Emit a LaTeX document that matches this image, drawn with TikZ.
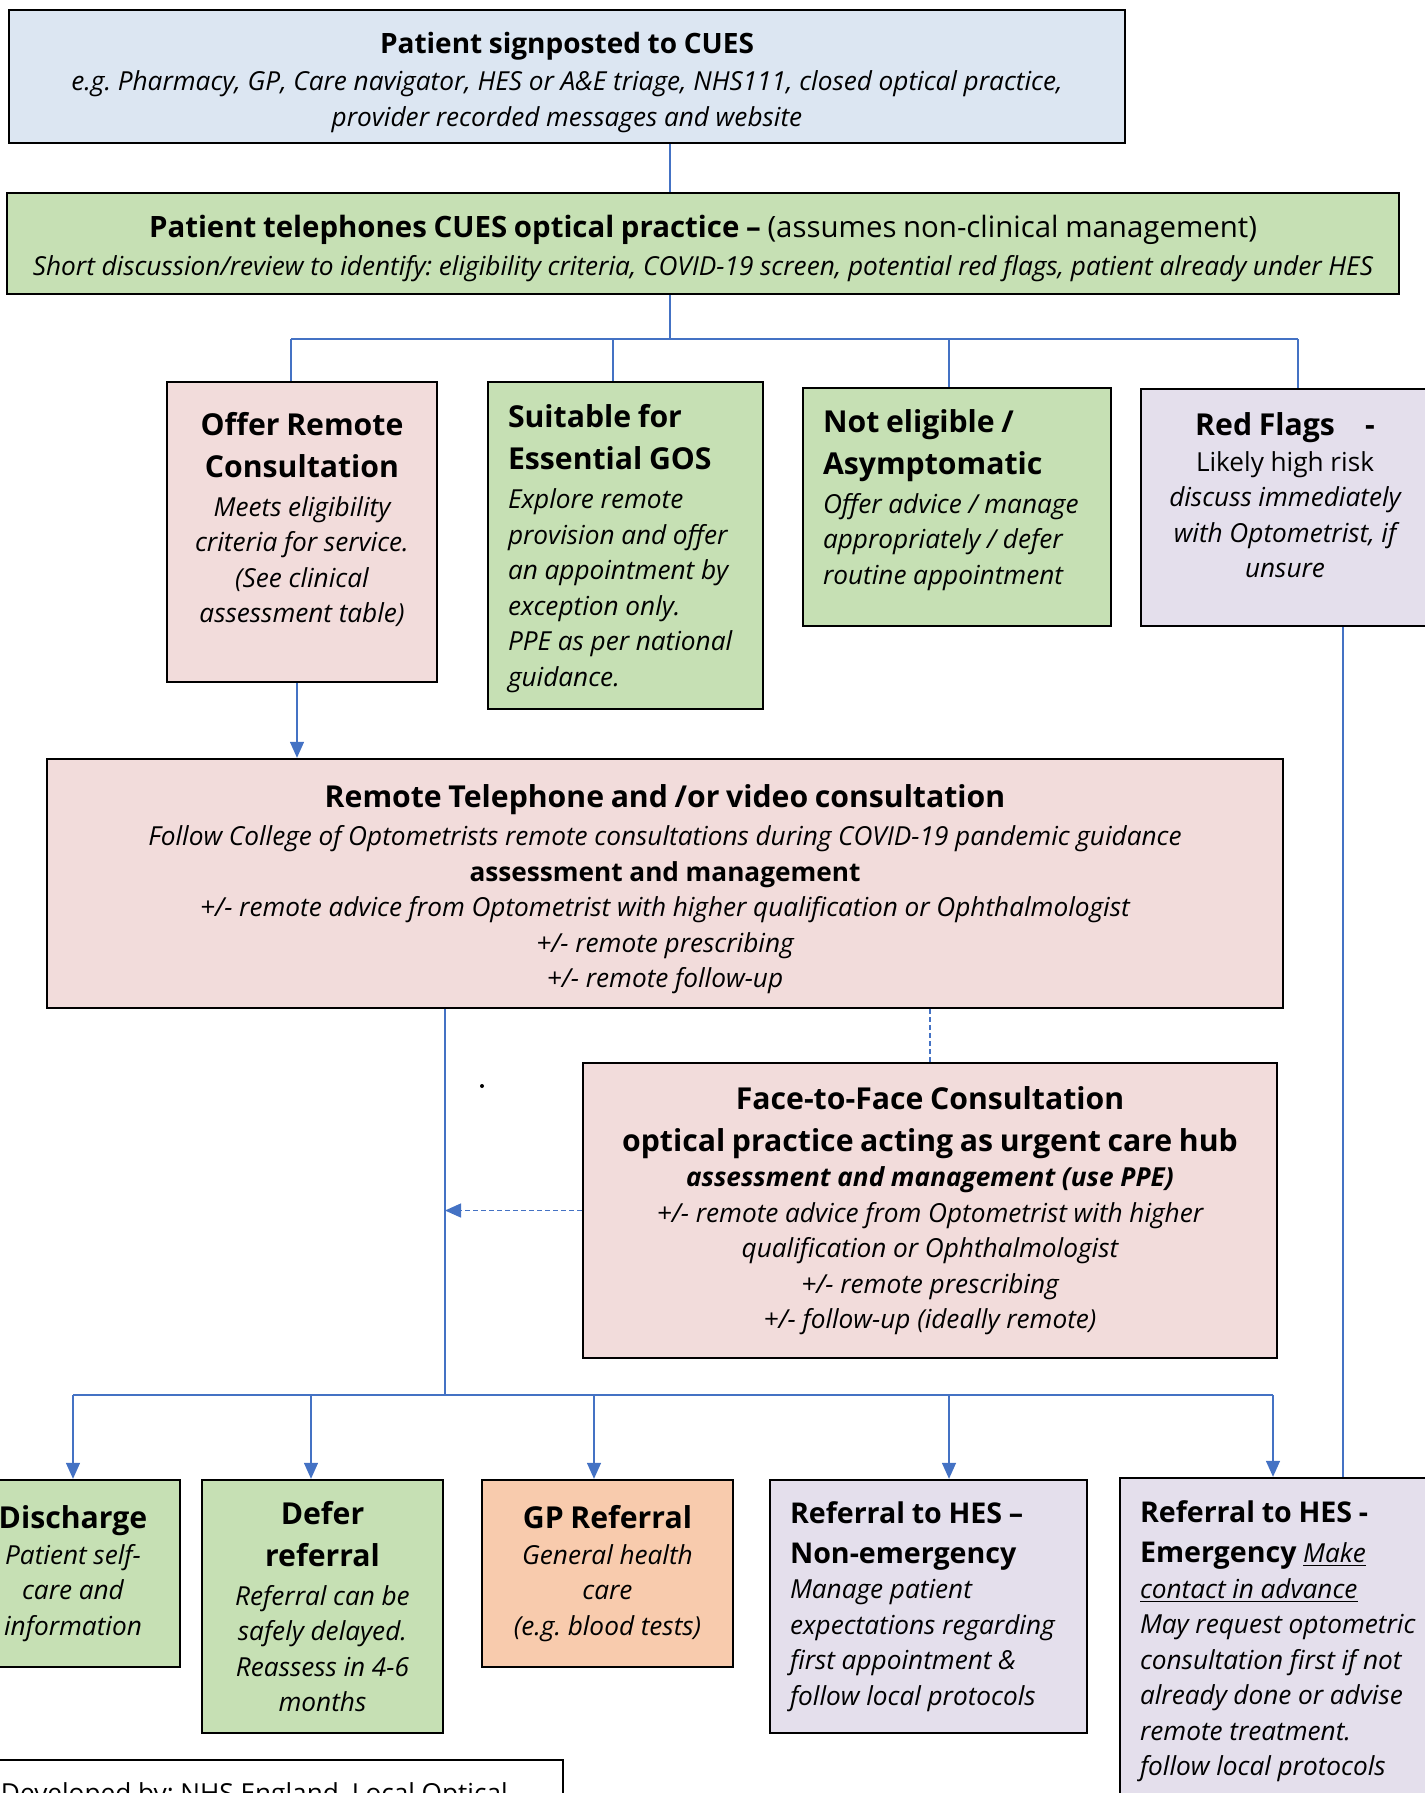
\documentclass[tikz,border=0pt]{standalone}
\usepackage{fontspec}
\setmainfont{Open Sans}
\frenchspacing
\usetikzlibrary{arrows.meta,positioning}
\definecolor{cuesBlue}{HTML}{DCE6F2}
\definecolor{cuesGreen}{HTML}{C6E0B4}
\definecolor{cuesPink}{HTML}{F2DCDB}
\definecolor{cuesLilac}{HTML}{E4DFEC}
\definecolor{cuesOrange}{HTML}{F8CBAD}
\definecolor{cuesLink}{HTML}{4472C4}
\newcommand{\cuesHead}{\fontsize{15.1}{21}\selectfont\bfseries}
\newcommand{\cuesSub}{\fontsize{14.3}{20}\selectfont\bfseries}
\newcommand{\cuesBody}{\fontsize{13.1}{17.75}\selectfont\mdseries\itshape}
\newcommand{\cuesText}{\fontsize{13.1}{17.75}\selectfont\mdseries\upshape}
\newcommand{\cuesGap}{\par\kern1.7pt}
\tikzset{
	cuesbox/.style={draw=black, line width=1.2pt, inner xsep=10pt, inner ysep=3pt, align=center},
	link/.style={draw=cuesLink, line width=0.7pt},
	linkarrow/.style={link, -{Triangle[width=7pt,length=8pt]}},
	linkdash/.style={link, dash pattern=on 2.5pt off 1.5pt}
}

\begin{document}
\begin{tikzpicture}[x=0.5pt, y=-0.5pt]
	\useasboundingbox (0,0) rectangle (1424,1793);
		% entry
		\node[cuesbox, fill=cuesBlue, minimum width=558pt, minimum height=66.5pt, text width=538pt] (signpost) at (567,76.5)
			{\fontsize{14}{18}\selectfont\bfseries Patient signposted to CUES\par\kern0.9pt
			\cuesBody e.g. Pharmacy, GP, Care navigator, HES or A\&E triage, NHS111, closed optical practice,\\ provider recorded messages and website\par\kern-5.7pt};
		\node[cuesbox, fill=cuesGreen, minimum width=696pt, minimum height=50.5pt, text width=676pt] (phone) at (703,243.5)
			{\fontsize{14.7}{19}\selectfont\bfseries Patient telephones CUES optical practice – \mdseries(assumes non-clinical management)\par
			\fontsize{13.1}{19}\selectfont\itshape Short discussion/review to identify: eligibility criteria, COVID-19 screen, potential red flags, patient already under HES\par\kern-5.2pt};
		% triage
		\node[cuesbox, fill=cuesPink, minimum width=135pt, minimum height=150pt, text width=115pt] (offer) at (302,532)
			{\cuesHead Offer Remote\\ Consultation\cuesGap
			\cuesBody Meets eligibility\\ criteria for service.\\ (See clinical\\ assessment table)\par\kern12.6pt};
		\node[cuesbox, fill=cuesGreen, align=left, minimum width=137.5pt, minimum height=163.5pt, text width=117.5pt] (essential) at (625.5,545.5)
			{\cuesHead Suitable for\\ Essential GOS\cuesGap
			\cuesBody Explore remote\\ provision and offer\\ an appointment by\\ exception only.\\ PPE as per national\\ guidance.\par\kern-3pt};
		\node[cuesbox, fill=cuesGreen, align=left, minimum width=154pt, minimum height=119pt, text width=134pt] (noteligible) at (957,507)
			{\cuesHead Not eligible /\\ Asymptomatic\cuesGap
			\cuesBody Offer advice / manage\\ appropriately / defer\\ routine appointment\par\kern6.9pt};
		\node[cuesbox, fill=cuesLilac, minimum width=144pt, minimum height=118.5pt, text width=124pt] (redflags) at (1285,507.5)
			{\cuesHead Red Flags\quad -\par
			\cuesText Likely high risk\\ \cuesBody discuss immediately\\ with Optometrist, if\\ unsure\par\kern12pt};
		% consultations
		\node[cuesbox, fill=cuesPink, minimum width=618pt, minimum height=124.5pt, text width=598pt] (remote) at (665,883.5)
			{\cuesHead Remote Telephone and /or video consultation\cuesGap
			\cuesBody Follow College of Optometrists remote consultations during COVID-19 pandemic guidance\\
			\upshape\bfseries assessment and management\\
			\mdseries\itshape +/- remote advice from Optometrist with higher qualification or Ophthalmologist\\
			+/- remote prescribing\\ +/- remote follow-up\par\kern-5.7pt};
		\node[cuesbox, fill=cuesPink, minimum width=347pt, minimum height=147.5pt, text width=327pt] (facetoface) at (930,1210.5)
			{\cuesHead Face-to-Face Consultation\\ optical practice acting as urgent care hub\par
			\cuesBody \bfseries assessment and management (use PPE)\\
			\mdseries +/- remote advice from Optometrist with higher\\ qualification or Ophthalmologist\\
			+/- remote prescribing\\ +/- follow-up (ideally remote)\par};
		% outcomes
		\node[cuesbox, fill=cuesGreen, minimum width=107pt, minimum height=93.5pt, text width=87pt] (discharge) at (73,1573.5)
			{\cuesHead Discharge\par
			\cuesBody Patient self-\\ care and\\ information\par};
		\node[cuesbox, fill=cuesGreen, minimum width=120.5pt, minimum height=126.5pt, text width=100.5pt] (defer) at (322.5,1606.5)
			{\cuesHead Defer\\ referral\cuesGap
			\cuesBody Referral can be\\ safely delayed.\\ Reassess in 4-6\\ months\par};
		\node[cuesbox, fill=cuesOrange, minimum width=125.5pt, minimum height=93.5pt, text width=105.5pt] (gpref) at (607.5,1573.5)
			{\cuesHead GP Referral\par
			\cuesBody General health\\ care\\ (e.g. blood tests)\par};
		\node[cuesbox, fill=cuesLilac, align=left, minimum width=158.5pt, minimum height=126.5pt, text width=138.5pt] (hesroutine) at (928.5,1606.5)
			{\cuesSub Referral to HES –\\ Non-emergency\par
			\cuesBody Manage patient\\ expectations regarding\\ first appointment \&\\ follow local protocols\par};
		\node[cuesbox, fill=cuesLilac, align=left, minimum width=160pt, minimum height=163.5pt, text width=140pt] (hesurgent) at (1280,1641.5)
			{\cuesSub Referral to HES -\\ Emergency {\cuesBody\underline{Make}}\par
			\cuesBody \underline{contact in advance}\\ May request optometric\\ consultation first if not\\ already done or advise\\ remote treatment.\\ follow local protocols\par};
		\node[cuesbox, fill=white, line width=1pt, align=left, anchor=north west, minimum width=291pt, minimum height=35.5pt, text width=271pt, inner ysep=9pt] (credits) at (-20,1759)
			{\cuesText Developed by: NHS England, Local Optical\par};
		% junctions
		\coordinate (tBus) at (670,339);
		\coordinate (tOffer) at (291,339);
		\coordinate (tEssential) at (613,339);
		\coordinate (tNot) at (949,339);
		\coordinate (tRed) at (1298,339);
		\coordinate (rfLine) at (1343,0);
		\coordinate (hub) at (445,1395);
		\coordinate (bDischarge) at (73,1395);
		\coordinate (bDefer) at (311,1395);
		\coordinate (bGp) at (594,1395);
		\coordinate (bRoutine) at (949,1395);
		\coordinate (bUrgent) at (1273,1395);
		% connectors
		\draw[link] (signpost.south -| tBus) -- (phone.north -| tBus);
		\draw[link] (phone.south -| tBus) -- (tBus);
		\draw[link] (tOffer) -- (tRed);
		\draw[link] (tOffer) -- (tOffer |- offer.north);
		\draw[link] (tEssential) -- (tEssential |- essential.north);
		\draw[link] (tNot) -- (tNot |- noteligible.north);
		\draw[link] (tRed) -- (tRed |- redflags.north);
		\draw[linkarrow] ([xshift=-2.5pt]offer.south) -- ([xshift=-2.5pt]offer.south |- remote.north);
		\draw[link] (redflags.south -| rfLine) -- (hesurgent.north -| rfLine);
		\draw[linkdash] (remote.south -| facetoface.north) -- (facetoface.north);
		\draw[link] (remote.south -| hub) -- (hub);
		\draw[linkdash, -{Triangle[width=7pt,length=8pt]}] (facetoface.west) -- (facetoface.west -| hub);
		\draw[link] (bDischarge) -- (bUrgent);
		\draw[linkarrow] (bDischarge) -- (discharge.north);
		\draw[linkarrow] (bDefer) -- (bDefer |- defer.north);
		\draw[linkarrow] (bGp) -- (bGp |- gpref.north);
		\draw[linkarrow] (bRoutine) -- (bRoutine |- hesroutine.north);
		\draw[linkarrow] (bUrgent) -- (bUrgent |- hesurgent.north);
		\fill (482,1086) circle (1pt);
\end{tikzpicture}
\end{document}
